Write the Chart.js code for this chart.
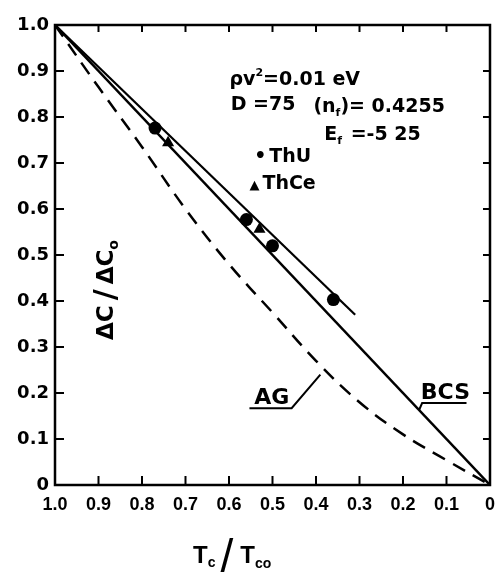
<!DOCTYPE html>
<html>
<head>
<meta charset="utf-8">
<script src="https://cdn.jsdelivr.net/npm/chart.js@4.4.1/dist/chart.umd.min.js"></script>
<style>
  html, body { margin: 0; padding: 0; background: #fff; }
  #wrap { width: 504px; height: 575px; }
</style>
</head>
<body>
<div id="wrap"><canvas id="chart" width="504" height="575"></canvas></div>
<script>
// tick labels, ascending values 0 .. 1.0
const xTickLabels = ['0', '0.1', '0.2', '0.3', '0.4', '0.5', '0.6', '0.7', '0.8', '0.9', '1.0'];
const yTickLabels = ['0', '0.1', '0.2', '0.3', '0.4', '0.5', '0.6', '0.7', '0.8', '0.9', '1.0'];

// BCS law (straight line)
const bcsX = [1.0, 0.0];
const bcsY = [1.0, 0.0];

// line through the measured points
const fitX = [1.0, 0.31];
const fitY = [1.0, 0.37];

// AG curve (dashed)
const agX = [1.0, 0.9, 0.8, 0.7, 0.6, 0.5, 0.4, 0.3, 0.2, 0.1, 0.0];
const agY = [1.0, 0.865, 0.735, 0.60, 0.48, 0.375, 0.27, 0.18, 0.11, 0.054, 0.0];

// measured points
const thuX = [0.77, 0.56, 0.50, 0.36];
const thuY = [0.776, 0.577, 0.52, 0.403];
const thceX = [0.74, 0.53];
const thceY = [0.744, 0.556];

const toPoints = (xs, ys) => xs.map((x, i) => ({ x: x, y: ys[i] }));

const DJ = '"DejaVu Sans"';
const LS = '"Liberation Sans"';

// draws text made of pieces (sub/superscripts), returns end x
function richText(ctx, x, y, parts, family) {
    let cx = x;
    parts.forEach(p => {
        cx += p.gap || 0;
        ctx.font = (p.weight || 'bold') + ' ' + p.size + 'px ' + family;
        ctx.fillText(p.t, cx, y + (p.dy || 0));
        cx += ctx.measureText(p.t).width;
    });
    return cx;
}

const framePlugin = {
    id: 'frame',
    afterDraw(chart) {
        const ctx = chart.ctx;
        const a = chart.chartArea;
        const xs = chart.scales.x;
        const ys = chart.scales.y;
        const X = v => xs.getPixelForValue(v);
        const Y = v => ys.getPixelForValue(v);

        ctx.save();
        ctx.strokeStyle = '#000';
        ctx.fillStyle = '#000';

        // box
        ctx.lineWidth = 2.5;
        ctx.strokeRect(a.left, a.top, a.right - a.left, a.bottom - a.top);

        // inward ticks on all four sides
        ctx.lineWidth = 2;
        ctx.beginPath();
        xs.ticks.forEach(t => {
            if (t.value < 0.05 || t.value > 0.95) return;
            const px = X(t.value);
            ctx.moveTo(px, a.bottom); ctx.lineTo(px, a.bottom - 9);
            ctx.moveTo(px, a.top); ctx.lineTo(px, a.top + 7);
        });
        ys.ticks.forEach(t => {
            if (t.value < 0.05 || t.value > 0.95) return;
            const py = Y(t.value);
            ctx.moveTo(a.left, py); ctx.lineTo(a.left + 9, py);
            ctx.moveTo(a.right, py); ctx.lineTo(a.right - 7, py);
        });
        ctx.stroke();

        // curve labels with leader lines
        ctx.textBaseline = 'alphabetic';
        ctx.textAlign = 'left';
        ctx.lineWidth = 2;
        ctx.font = 'bold 22px ' + DJ;
        ctx.fillText('AG', X(0.542), Y(0.176));
        ctx.beginPath();
        ctx.moveTo(X(0.553), Y(0.167));
        ctx.lineTo(X(0.456), Y(0.167));
        ctx.lineTo(X(0.39), Y(0.24));
        ctx.stroke();

        ctx.fillText('BCS', X(0.159), Y(0.187));
        ctx.beginPath();
        ctx.moveTo(X(0.054), Y(0.178));
        ctx.lineTo(X(0.156), Y(0.178));
        ctx.lineTo(X(0.163), Y(0.163));
        ctx.stroke();

        // parameter block and legend
        richText(ctx, X(0.599), Y(0.870), [
            { t: 'ρv', size: 19 }, { t: '2', size: 11, dy: -9 }, { t: '=0.01 eV', size: 19 }
        ], DJ);
        richText(ctx, X(0.596), Y(0.815), [{ t: 'D =75', size: 19 }], DJ);
        richText(ctx, X(0.406), Y(0.811), [
            { t: '(n', size: 19 }, { t: 'f', size: 11, dy: 4 }, { t: ')= 0.4255', size: 19 }
        ], DJ);
        richText(ctx, X(0.381), Y(0.750), [
            { t: 'E', size: 19 }, { t: 'f', size: 11, dy: 4 }, { t: ' =-5 25', size: 19, gap: 2 }
        ], DJ);
        richText(ctx, X(0.542), Y(0.702), [{ t: '•', size: 19 }, { t: 'ThU', size: 19, gap: 3 }], DJ);
        richText(ctx, X(0.553), Y(0.643), [{ t: '▲', size: 13 }, { t: 'ThCe', size: 19, gap: 3 }], DJ);

        // x axis title  Tc / Tco
        const xb = a.bottom + 78;
        richText(ctx, a.left + 138, xb, [
            { t: 'T', size: 24 }, { t: 'c', size: 14, dy: 4 },
            { t: '/', size: 46, dy: 9, gap: 5, weight: 'normal' },
            { t: 'T', size: 24, gap: 7 }, { t: 'co', size: 14, dy: 5 }
        ], LS);

        // y axis title  ΔC / ΔCo (inside the plot)
        ctx.save();
        ctx.translate(a.left + 58, a.bottom - 145);
        ctx.rotate(-Math.PI / 2);
        richText(ctx, 0, 0, [
            { t: 'ΔC', size: 23 },
            { t: '/', size: 30, dy: 2, gap: 5 },
            { t: 'ΔC', size: 23, gap: 5 },
            { t: 'o', size: 14, dy: 5 }
        ], DJ);
        ctx.restore();

        ctx.restore();
    }
};

new Chart(document.getElementById('chart').getContext('2d'), {
    type: 'scatter',
    data: {
        datasets: [
            {
                label: 'ThU',
                data: toPoints(thuX, thuY),
                pointStyle: 'circle',
                pointRadius: 6.5,
                backgroundColor: '#000',
                borderColor: '#000',
                borderWidth: 0
            },
            {
                label: 'ThCe',
                data: toPoints(thceX, thceY),
                pointStyle: 'triangle',
                pointRadius: 7,
                backgroundColor: '#000',
                borderColor: '#000',
                borderWidth: 0
            },
            {
                label: 'BCS',
                data: toPoints(bcsX, bcsY),
                showLine: true,
                borderColor: '#000',
                borderWidth: 2.5,
                pointRadius: 0
            },
            {
                label: 'fit',
                data: toPoints(fitX, fitY),
                showLine: true,
                borderColor: '#000',
                borderWidth: 2.2,
                pointRadius: 0
            },
            {
                label: 'AG',
                data: toPoints(agX, agY),
                showLine: true,
                tension: 0.4,
                borderColor: '#000',
                borderWidth: 2.5,
                borderDash: [14, 9],
                pointRadius: 0
            }
        ]
    },
    options: {
        responsive: false,
        animation: false,
        layout: { padding: { top: 25, right: 8, left: 0, bottom: 0 } },
        plugins: {
            legend: { display: false },
            tooltip: { enabled: false }
        },
        scales: {
            x: {
                type: 'linear',
                reverse: true,
                min: 0,
                max: 1,
                afterFit: s => { s.height = 90; },
                grid: { display: false, drawTicks: false },
                border: { display: false },
                ticks: {
                    stepSize: 0.1,
                    autoSkip: false,
                    maxRotation: 0,
                    padding: 9,
                    color: '#000',
                    font: { family: 'Liberation Sans', size: 18, weight: 'bold' },
                    callback: v => xTickLabels[Math.round(v * 10)]
                }
            },
            y: {
                type: 'linear',
                min: 0,
                max: 1,
                afterFit: s => { s.width = 55; },
                grid: { display: false, drawTicks: false },
                border: { display: false },
                ticks: {
                    stepSize: 0.1,
                    autoSkip: false,
                    padding: 6,
                    color: '#000',
                    font: { family: 'DejaVu Sans', size: 18, weight: 'bold' },
                    callback: v => yTickLabels[Math.round(v * 10)]
                }
            }
        }
    },
    plugins: [framePlugin]
});
</script>
</body>
</html>
